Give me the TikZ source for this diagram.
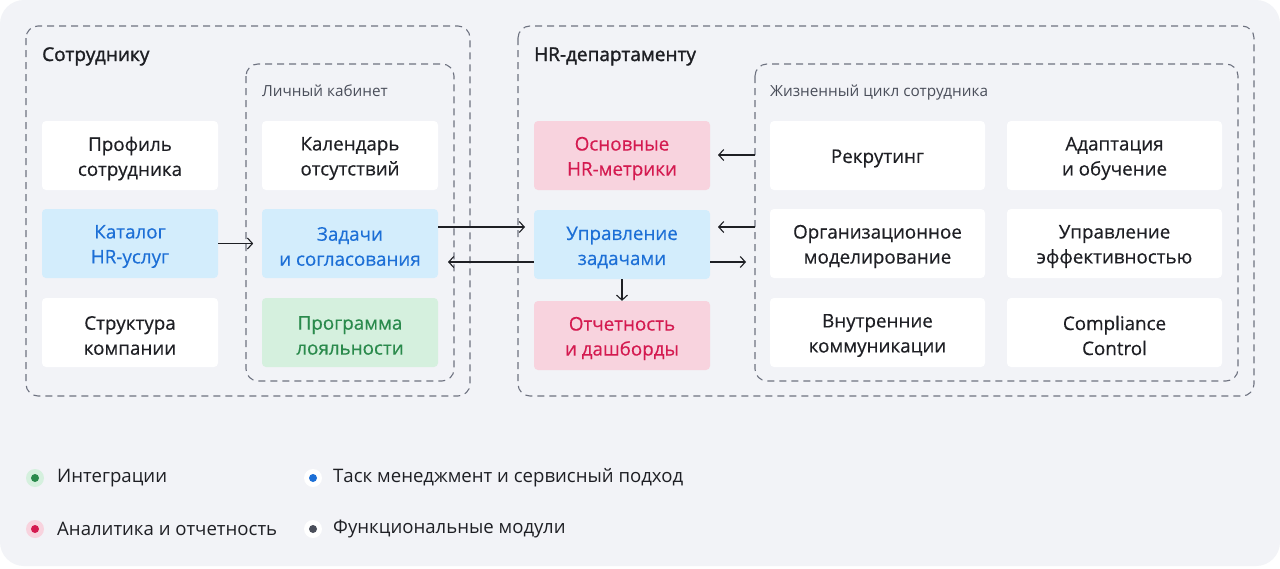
\documentclass[tikz,border=0pt]{standalone}
\usepackage{fontspec}
\setmainfont{Open Sans}
\newfontfamily\semib{Open Sans}[FakeBold=1.5]
\newfontfamily\cardf{Open Sans}[FakeBold=0.4]
\usetikzlibrary{arrows.meta}
\definecolor{bgc}{HTML}{F2F3F7}
\definecolor{dashc}{HTML}{6E7280}
\definecolor{bluef}{HTML}{D3EDFC}
\definecolor{bluet}{HTML}{1C6FD6}
\definecolor{redf}{HTML}{F8D3DE}
\definecolor{redt}{HTML}{D41A50}
\definecolor{greenf}{HTML}{D5F0DE}
\definecolor{greent}{HTML}{2A8A4C}
\definecolor{txt}{HTML}{1E1F24}
\definecolor{subt}{HTML}{4A4E5A}
% \cardnode{style}{name}{x,y}{text}
\newcommand{\cardnode}[4]{%
  \node[#1] (#2) at (#3) {};
  \node[cardtext,#1,fill=none,minimum width=0pt,minimum height=0pt] (#2-t) at ([yshift=-3pt]#2.center) {#4};}
\begin{document}
\begin{tikzpicture}[x=1pt,y=-1pt,
  card/.style={rectangle,rounded corners=4pt,inner sep=0pt,align=center,
    minimum height=69pt,text=txt,fill=white},
  cardtext/.style={font=\fontsize{18.8}{25}\cardf},
  narrow/.style={card,minimum width=176pt},
  wide/.style={card,minimum width=215pt},
  bluecard/.style={fill=bluef,text=bluet},
  redcard/.style={fill=redf,text=redt},
  greencard/.style={fill=greenf,text=greent},
  group/.style={draw=dashc,line width=1.1pt,dash pattern=on 7pt off 5pt,rounded corners=12pt},
  conn/.style={draw=txt,line width=1.1pt,-{Straight Barb[length=5pt,width=11pt]}},
  title/.style={anchor=base west,font=\fontsize{19}{22}\semib,text=txt,inner sep=0pt},
  subtitle/.style={anchor=base west,font=\fontsize{15.3}{18}\selectfont,text=subt,inner sep=0pt},
  legend/.style={anchor=west,font=\fontsize{18.6}{22}\selectfont,text=txt,inner sep=0pt},
  dot/.style={circle,inner sep=0pt,minimum size=8pt}]
\useasboundingbox (0,0) rectangle (1280,568);
\fill[white] (0,0) rectangle (1280,568);
\fill[bgc,rounded corners=24pt] (0,0) rectangle (1280,566);
% groups
\draw[group] (26,26) rectangle (470,396);
\draw[group] (246,64) rectangle (454,381);
\draw[group] (518,26) rectangle (1254,396);
\draw[group] (755,64) rectangle (1238,381);
\coordinate (lcW) at (755,155);
\coordinate (lcW2) at (755,227);
\node[title] (t1) at (42,61) {Сотруднику};
\node[title] (t2) at (534,61) {HR-департаменту};
\node[subtitle] (s1) at (262,96.5) {Личный кабинет};
\node[subtitle] (s2) at (770,96.5) {Жизненный цикл сотрудника};
% column 1
\cardnode{narrow}{prof}{130,155.5}{Профиль\\сотрудника}
\cardnode{narrow,bluecard}{cat}{130,243.5}{Каталог\\HR-услуг}
\cardnode{narrow}{str}{130,332.5}{Структура\\компании}
% column 2
\cardnode{narrow}{cal}{350,155.5}{Календарь\\отсутствий}
\cardnode{narrow,bluecard}{task}{350,243.5}{Задачи\\и согласования}
\cardnode{narrow,greencard}{loy}{350,332.5}{Программа\\лояльности}
% column 3
\cardnode{narrow,redcard}{met}{622,155.5}{Основные\\HR-метрики}
\cardnode{narrow,bluecard}{mgmt}{622,244.5}{Управление\\задачами}
\cardnode{narrow,redcard}{rep}{622,335.5}{Отчетность\\и дашборды}
% columns 4,5
\cardnode{wide}{rec}{877.5,155.5}{Рекрутинг}
\cardnode{wide}{ad}{1114.5,155.5}{Адаптация\\и обучение}
\cardnode{wide}{org}{877.5,243.5}{Организационное\\моделирование}
\cardnode{wide}{eff}{1114.5,243.5}{Управление\\эффективностью}
\cardnode{wide}{comm}{877.5,332.5}{Внутренние\\коммуникации}
\cardnode{wide}{comp}{1114.5,332.5}{Compliance\\Control}
% connectors
\draw[conn] (cat.east) -- ++(35,0);
\draw[conn] (task.east |- 0,227) -- (525,227);
\draw[conn] (mgmt.west |- 0,262) -- (448,262);
\draw[conn] (lcW) -- (718,155);
\draw[conn] (lcW2) -- (718,227);
\draw[conn] (mgmt.east |- 0,262) -- (746,262);
\draw[conn] (mgmt.south) -- (rep.north);
% legend
\node[dot,fill=greenf,minimum size=18pt] (g0) at (35,478) {};
\node[dot,fill=greent] (g1) at (35,478) {};
\node[legend] (gl) at (57,478) {Интеграции};
\node[dot,fill=white,minimum size=18pt] (b0) at (313,478) {};
\node[dot,fill=bluet] (b1) at (313,478) {};
\node[legend] (bl) at (333,478) {Таск менеджмент и сервисный подход};
\node[dot,fill=redf,minimum size=18pt] (r0) at (35,529) {};
\node[dot,fill=redt] (r1) at (35,529) {};
\node[legend] (rl) at (57,529) {Аналитика и отчетность};
\node[dot,fill=white,minimum size=18pt] (f0) at (313,529) {};
\node[dot,fill=subt] (f1) at (313,529) {};
\node[legend] (fl) at (333,529) {Функциональные модули};
\end{tikzpicture}
\end{document}
